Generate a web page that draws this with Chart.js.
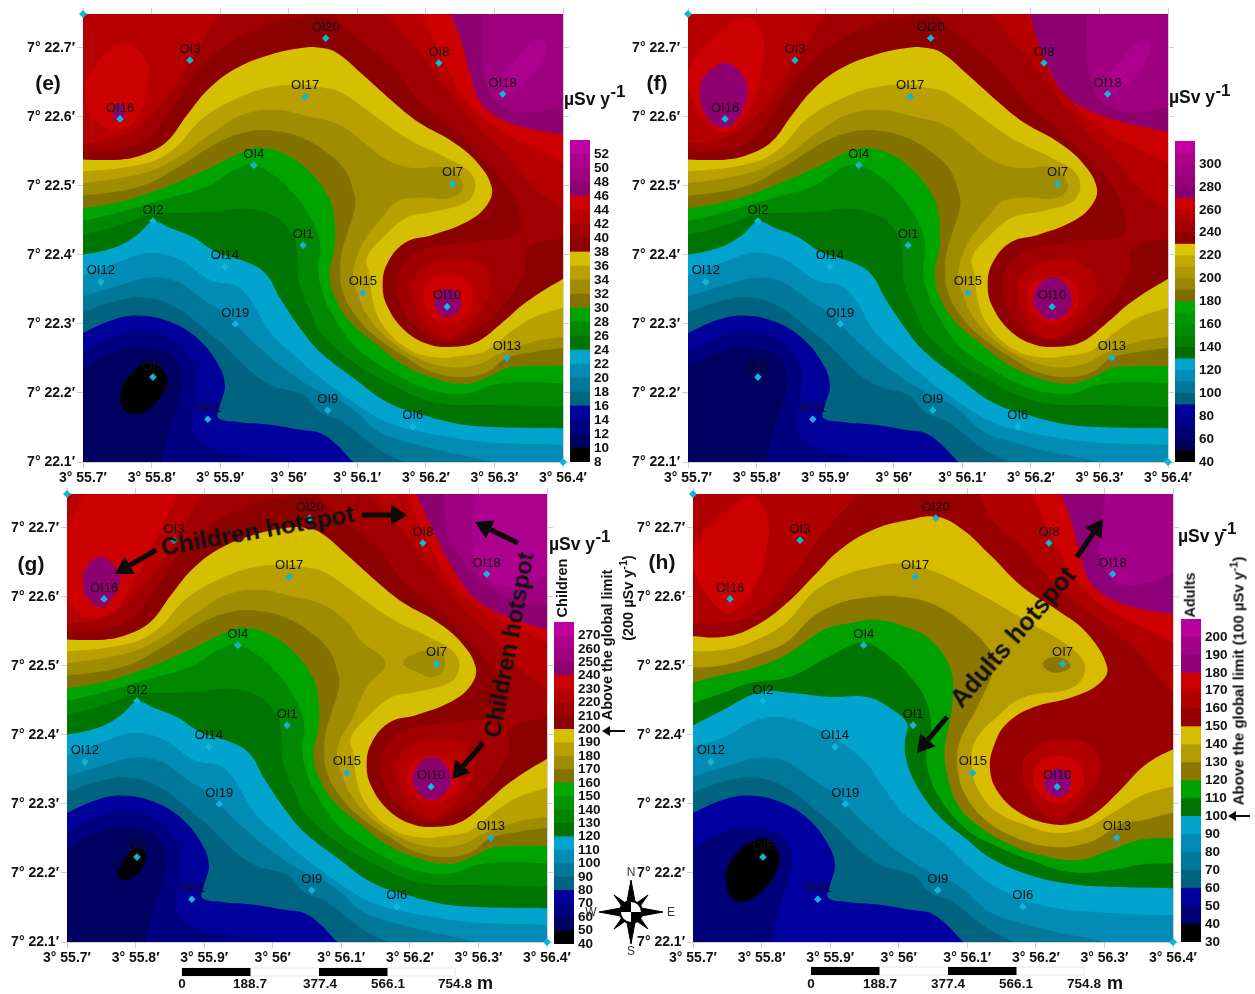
<!DOCTYPE html>
<html>
<head>
<meta charset="utf-8">
<title>Dose maps</title>
<script src="https://cdn.jsdelivr.net/npm/chart.js@4"></script>
<style>
  body { margin: 0; background: #fff; width: 1255px; height: 994px; position: relative; overflow: hidden; font-family: "Liberation Sans", Arial, sans-serif; }
  canvas { position: absolute; }
  svg { position: absolute; left: 0; top: 0; }
  .t { position: absolute; font-weight: bold; color: #111; white-space: nowrap; line-height: 1; }
  sup { font-size: 75%; line-height: 0; }
</style>
</head>
<body>
<script>
// axis ticks
const lonTicks = [55.7, 55.8, 55.9, 56.0, 56.1, 56.2, 56.3, 56.4];
const lonLabels = ["3° 55.7′", "3° 55.8′", "3° 55.9′", "3° 56′", "3° 56.1′", "3° 56.2′", "3° 56.3′", "3° 56.4′"];
const latTicks = [22.1, 22.2, 22.3, 22.4, 22.5, 22.6, 22.7];
const latLabels = ["7° 22.1′", "7° 22.2′", "7° 22.3′", "7° 22.4′", "7° 22.5′", "7° 22.6′", "7° 22.7′"];

// sampling stations
const stationNames = ["OI1", "OI2", "OI3", "OI4", "OI5", "OI6", "OI7", "OI8", "OI9", "OI10", "OI11", "OI12", "OI13", "OI14", "OI15", "OI16", "OI17", "OI18", "OI19", "OI20"];
const stationLon = [56.021, 55.802, 55.856, 55.949, 55.802, 56.181, 56.239, 56.219, 56.057, 56.231, 55.882, 55.726, 56.318, 55.907, 56.108, 55.754, 56.024, 56.312, 55.922, 56.054];
const stationLat = [22.414, 22.449, 22.682, 22.53, 22.223, 22.151, 22.503, 22.678, 22.175, 22.325, 22.162, 22.361, 22.251, 22.383, 22.345, 22.597, 22.629, 22.633, 22.3, 22.714];
const cornerMarks = [[55.7, 22.749], [56.4, 22.1]];

// contour lines, lon/lat pairs
const c12 = [[55.674,22.222],[55.744,22.259],[55.783,22.265],[55.827,22.255],[55.844,22.226],[55.839,22.187],[55.824,22.143],[55.827,22.077]];
const c14 = [[55.674,22.245],[55.744,22.281],[55.787,22.288],[55.827,22.28],[55.86,22.248],[55.866,22.212],[55.859,22.154],[55.871,22.129],[55.914,22.114],[55.973,22.106],[56.012,22.096],[56.046,22.077]];
const c16 = [[55.674,22.274],[55.744,22.306],[55.786,22.312],[55.827,22.303],[55.866,22.28],[55.895,22.245],[55.907,22.212],[55.9,22.183],[55.897,22.164],[55.925,22.158],[55.973,22.154],[56.021,22.146],[56.046,22.142],[56.07,22.125],[56.094,22.1],[56.118,22.077]];
const c18 = [[55.674,22.306],[55.744,22.332],[55.793,22.338],[55.837,22.323],[55.875,22.294],[55.91,22.265],[55.939,22.236],[55.973,22.212],[56.021,22.197],[56.046,22.172],[56.079,22.158],[56.129,22.12],[56.167,22.1],[56.206,22.077]];
const c20 = [[55.674,22.332],[55.754,22.356],[55.798,22.367],[55.837,22.361],[55.875,22.335],[55.91,22.313],[55.933,22.288],[55.958,22.265],[55.992,22.236],[56.046,22.201],[56.085,22.183],[56.133,22.143],[56.177,22.128],[56.231,22.114],[56.298,22.1],[56.352,22.081]];
const c22 = [[55.674,22.359],[55.754,22.39],[55.798,22.403],[55.841,22.393],[55.885,22.364],[55.925,22.354],[55.946,22.332],[55.973,22.288],[56.012,22.251],[56.046,22.222],[56.094,22.187],[56.143,22.158],[56.196,22.143],[56.289,22.129],[56.398,22.125],[56.432,22.125]];
const c24 = [[55.674,22.396],[55.744,22.41],[55.779,22.429],[55.802,22.448],[55.827,22.439],[55.86,22.426],[55.895,22.404],[55.943,22.388],[55.968,22.371],[55.987,22.338],[56.021,22.288],[56.046,22.259],[56.094,22.222],[56.143,22.187],[56.187,22.171],[56.239,22.157],[56.289,22.151],[56.398,22.149],[56.432,22.149]];
const c26 = [[55.674,22.422],[55.754,22.443],[55.798,22.458],[55.885,22.462],[55.939,22.467],[55.983,22.454],[56.006,22.429],[56.012,22.407],[56.013,22.381],[56.016,22.356],[56.031,22.32],[56.046,22.288],[56.094,22.245],[56.143,22.216],[56.191,22.193],[56.239,22.183],[56.289,22.183],[56.398,22.18],[56.432,22.18]];
const c28 = [[55.674,22.443],[55.754,22.462],[55.827,22.483],[55.885,22.501],[55.925,22.526],[55.948,22.53],[55.983,22.512],[56.012,22.483],[56.035,22.448],[56.046,22.414],[56.043,22.381],[56.048,22.349],[56.06,22.32],[56.094,22.27],[56.133,22.241],[56.177,22.216],[56.221,22.201],[56.264,22.2],[56.298,22.212],[56.352,22.216],[56.398,22.214],[56.432,22.214]];
const c30 = [[55.674,22.464],[55.754,22.477],[55.827,22.501],[55.885,22.526],[55.933,22.549],[55.962,22.555],[55.997,22.545],[56.031,22.52],[56.056,22.487],[56.065,22.462],[56.067,22.414],[56.06,22.371],[56.07,22.332],[56.094,22.299],[56.129,22.27],[56.167,22.241],[56.21,22.222],[56.254,22.213],[56.289,22.222],[56.318,22.236],[56.352,22.239],[56.398,22.239],[56.432,22.239]];
const c32 = [[55.674,22.483],[55.779,22.498],[55.837,22.526],[55.89,22.559],[55.933,22.577],[55.977,22.58],[56.021,22.569],[56.06,22.545],[56.082,22.523],[56.094,22.494],[56.097,22.472],[56.086,22.433],[56.078,22.407],[56.075,22.381],[56.079,22.346],[56.1,22.309],[56.129,22.28],[56.172,22.251],[56.21,22.23],[56.254,22.223],[56.289,22.23],[56.318,22.251],[56.356,22.259],[56.398,22.265],[56.432,22.268]];
const c34 = [[55.674,22.501],[55.779,22.516],[55.837,22.54],[55.89,22.578],[55.933,22.603],[55.983,22.61],[56.031,22.6],[56.075,22.588],[56.108,22.564],[56.143,22.538],[56.181,22.526],[56.231,22.526],[56.254,22.501],[56.239,22.483],[56.191,22.483],[56.158,22.477],[56.137,22.455],[56.111,22.422],[56.097,22.39],[56.094,22.364],[56.1,22.346],[56.114,22.313],[56.143,22.28],[56.187,22.251],[56.231,22.238],[56.274,22.241],[56.312,22.259],[56.356,22.274],[56.398,22.281],[56.432,22.285]];
const c34NoLobe = [[55.674,22.501],[55.779,22.516],[55.837,22.54],[55.89,22.578],[55.933,22.603],[55.983,22.61],[56.031,22.6],[56.075,22.588],[56.108,22.564],[56.127,22.538],[56.164,22.504],[56.137,22.469],[56.117,22.426],[56.097,22.39],[56.094,22.364],[56.1,22.346],[56.114,22.313],[56.143,22.28],[56.187,22.251],[56.231,22.238],[56.274,22.241],[56.312,22.259],[56.356,22.274],[56.398,22.281],[56.432,22.285]];
const c36 = [[55.674,22.519],[55.779,22.53],[55.827,22.549],[55.875,22.598],[55.925,22.627],[55.973,22.643],[56.021,22.646],[56.046,22.643],[56.075,22.636],[56.118,22.607],[56.172,22.569],[56.231,22.54],[56.264,22.52],[56.272,22.498],[56.26,22.477],[56.21,22.462],[56.172,22.454],[56.137,22.425],[56.114,22.396],[56.118,22.371],[56.123,22.332],[56.137,22.299],[56.172,22.265],[56.21,22.252],[56.254,22.254],[56.289,22.262],[56.323,22.288],[56.356,22.309],[56.398,22.323],[56.432,22.335]];
const c38 = [[55.674,22.539],[55.754,22.538],[55.787,22.545],[55.822,22.564],[55.852,22.603],[55.885,22.642],[55.925,22.671],[55.973,22.69],[56.021,22.7],[56.046,22.7],[56.07,22.693],[56.108,22.661],[56.152,22.622],[56.191,22.591],[56.239,22.564],[56.274,22.535],[56.296,22.498],[56.289,22.472],[56.26,22.448],[56.21,22.429],[56.172,22.419],[56.145,22.39],[56.137,22.356],[56.145,22.323],[56.172,22.288],[56.206,22.27],[56.239,22.267],[56.274,22.274],[56.308,22.299],[56.347,22.332],[56.398,22.364],[56.432,22.381]];
const c40 = [[55.674,22.551],[55.744,22.551],[55.793,22.567],[55.822,22.603],[55.871,22.671],[55.925,22.714],[55.983,22.738],[56.021,22.745],[56.06,22.746],[56.075,22.733],[56.118,22.7],[56.158,22.665],[56.191,22.622],[56.239,22.584],[56.289,22.535],[56.318,22.501],[56.337,22.458],[56.333,22.429],[56.264,22.419],[56.206,22.41],[56.177,22.396],[56.159,22.367],[56.162,22.332],[56.181,22.299],[56.231,22.277],[56.274,22.294],[56.312,22.327],[56.342,22.371],[56.349,22.41],[56.398,22.425],[56.432,22.433]];
const c42 = [[56.133,22.762],[56.167,22.719],[56.202,22.68],[56.235,22.636],[56.269,22.593],[56.318,22.545],[56.356,22.501],[56.398,22.468],[56.432,22.448]];
const c42West = [[55.674,22.564],[55.729,22.564],[55.779,22.584],[55.817,22.622],[55.856,22.68],[55.897,22.749],[55.907,22.77]];
const c44 = [[56.184,22.77],[56.21,22.714],[56.225,22.685],[56.25,22.636],[56.274,22.607],[56.318,22.574],[56.356,22.555],[56.398,22.535],[56.432,22.52]];
const c46 = [[56.228,22.77],[56.25,22.714],[56.264,22.665],[56.279,22.622],[56.308,22.598],[56.347,22.584],[56.398,22.575],[56.432,22.571]];
const c48 = [[56.282,22.77],[56.282,22.7],[56.286,22.656],[56.304,22.622],[56.347,22.607],[56.398,22.614],[56.432,22.619]];
const oval50 = [[56.369,22.711],[56.375,22.7],[56.362,22.671],[56.333,22.642],[56.315,22.635],[56.312,22.656],[56.333,22.685],[56.356,22.709]];
const redWest = [[55.766,22.706],[55.795,22.675],[55.793,22.642],[55.779,22.598],[55.754,22.58],[55.72,22.593],[55.703,22.632],[55.71,22.661],[55.735,22.694]];
const spot16 = [[55.752,22.62],[55.761,22.61],[55.76,22.598],[55.752,22.594],[55.745,22.598],[55.744,22.61]];
const ring42 = [[56.18,22.346],[56.191,22.375],[56.231,22.393],[56.274,22.388],[56.295,22.356],[56.283,22.323],[56.254,22.291],[56.231,22.278],[56.202,22.294]];
const ring44 = [[56.196,22.338],[56.206,22.361],[56.232,22.37],[56.26,22.361],[56.27,22.338],[56.26,22.313],[56.232,22.3],[56.209,22.31]];
const ring46 = [[56.213,22.33],[56.22,22.346],[56.232,22.351],[56.245,22.346],[56.251,22.33],[56.245,22.316],[56.232,22.31],[56.219,22.316]];
const ringWide = [[56.204,22.335],[56.214,22.359],[56.232,22.368],[56.25,22.359],[56.26,22.335],[56.25,22.314],[56.232,22.306],[56.214,22.314]];
const blackE = [[55.795,22.243],[55.815,22.236],[55.822,22.216],[55.812,22.193],[55.793,22.175],[55.773,22.17],[55.758,22.178],[55.755,22.201],[55.769,22.226],[55.783,22.238]];

// panel (f) and (g) shapes
const purpleF = [[56.191,22.77],[56.221,22.682],[56.25,22.632],[56.301,22.603],[56.398,22.578],[56.432,22.572]];
const spotF = [[55.757,22.678],[55.783,22.654],[55.785,22.625],[55.769,22.593],[55.751,22.584],[55.729,22.598],[55.717,22.632],[55.725,22.661]];
const spotG = [[55.751,22.658],[55.777,22.632],[55.771,22.607],[55.751,22.585],[55.732,22.596],[55.723,22.622],[55.731,22.646]];
const redG = [[55.666,22.682],[55.7,22.709],[55.725,22.746],[55.732,22.762],[55.856,22.762],[55.831,22.687],[55.796,22.62],[55.767,22.577],[55.729,22.571],[55.704,22.591],[55.666,22.625]];
const blackG = [[55.805,22.236],[55.815,22.225],[55.809,22.207],[55.793,22.193],[55.779,22.19],[55.774,22.201],[55.783,22.219],[55.793,22.232]];
const lobeG = [[56.19,22.504],[56.21,22.519],[56.244,22.52],[56.251,22.498],[56.234,22.484],[56.21,22.491]];
const g240 = [[56.199,22.77],[56.234,22.697],[56.258,22.649],[56.292,22.6],[56.342,22.571],[56.4,22.552],[56.432,22.54]];
const g250 = [[56.25,22.77],[56.254,22.697],[56.273,22.658],[56.302,22.625],[56.342,22.6],[56.4,22.588],[56.432,22.584]];
const g260 = [[56.298,22.77],[56.292,22.672],[56.312,22.627],[56.342,22.614],[56.4,22.629],[56.432,22.635]];

// panel (h) shapes
const h90 = [[55.674,22.378],[55.735,22.393],[55.812,22.426],[55.885,22.407],[55.948,22.364],[55.977,22.325],[56.006,22.287],[56.06,22.248],[56.133,22.185],[56.206,22.154],[56.308,22.142],[56.398,22.139],[56.432,22.139]];
const h100 = [[55.674,22.4],[55.744,22.436],[55.798,22.462],[55.841,22.461],[55.9,22.455],[55.954,22.455],[55.987,22.439],[56.012,22.417],[56.009,22.39],[56.011,22.364],[56.027,22.325],[56.06,22.281],[56.1,22.248],[56.133,22.222],[56.191,22.197],[56.25,22.184],[56.308,22.18],[56.398,22.178],[56.432,22.178]];
const h110 = [[55.674,22.436],[55.744,22.461],[55.783,22.475],[55.841,22.484],[55.89,22.509],[55.939,22.533],[55.955,22.533],[55.987,22.513],[56.021,22.48],[56.043,22.441],[56.047,22.397],[56.041,22.383],[56.043,22.346],[56.065,22.301],[56.1,22.262],[56.133,22.243],[56.191,22.219],[56.25,22.201],[56.308,22.204],[56.352,22.212],[56.398,22.214],[56.432,22.214]];
const h120 = [[55.674,22.469],[55.744,22.487],[55.793,22.498],[55.841,22.519],[55.89,22.552],[55.929,22.562],[55.968,22.567],[56.012,22.556],[56.046,22.538],[56.075,22.498],[56.079,22.455],[56.072,22.407],[56.067,22.378],[56.07,22.346],[56.085,22.301],[56.114,22.27],[56.155,22.245],[56.206,22.226],[56.264,22.219],[56.308,22.233],[56.352,22.248],[56.398,22.251],[56.432,22.251]];
const h130 = [[55.674,22.497],[55.744,22.501],[55.793,22.516],[55.837,22.535],[55.875,22.571],[55.914,22.591],[55.962,22.6],[55.997,22.601],[56.046,22.591],[56.094,22.562],[56.133,22.523],[56.139,22.498],[56.116,22.443],[56.089,22.39],[56.086,22.349],[56.097,22.313],[56.123,22.28],[56.162,22.255],[56.221,22.238],[56.279,22.245],[56.323,22.27],[56.359,22.277],[56.398,22.287],[56.432,22.291]];
const h140 = [[55.674,22.522],[55.744,22.523],[55.793,22.538],[55.837,22.564],[55.875,22.606],[55.914,22.629],[55.962,22.643],[56.006,22.648],[56.056,22.635],[56.1,22.614],[56.133,22.596],[56.191,22.562],[56.25,22.527],[56.272,22.498],[56.254,22.469],[56.181,22.454],[56.143,22.426],[56.111,22.39],[56.107,22.349],[56.118,22.317],[56.143,22.288],[56.184,22.27],[56.228,22.258],[56.272,22.265],[56.312,22.287],[56.356,22.313],[56.398,22.325],[56.432,22.332]];
const h150 = [[55.674,22.546],[55.744,22.542],[55.793,22.559],[55.837,22.591],[55.875,22.629],[55.914,22.668],[55.962,22.697],[56.012,22.711],[56.056,22.716],[56.094,22.697],[56.133,22.661],[56.181,22.614],[56.231,22.581],[56.274,22.548],[56.304,22.498],[56.293,22.475],[56.254,22.455],[56.196,22.44],[56.158,22.417],[56.141,22.39],[56.133,22.352],[56.145,22.317],[56.177,22.287],[56.216,22.272],[56.25,22.271],[56.283,22.284],[56.323,22.32],[56.359,22.356],[56.398,22.378],[56.432,22.39]];
const h160 = [[56.111,22.77],[56.133,22.716],[56.181,22.672],[56.231,22.614],[56.279,22.577],[56.342,22.527],[56.4,22.462],[56.432,22.448]];
const h160West = [[55.674,22.564],[55.744,22.562],[55.793,22.578],[55.841,22.625],[55.89,22.693],[55.943,22.751],[55.955,22.77]];
const redWide = [[55.787,22.745],[55.808,22.716],[55.809,22.678],[55.793,22.62],[55.758,22.578],[55.729,22.591],[55.703,22.635],[55.703,22.672],[55.739,22.716]];
const h190 = [[56.304,22.77],[56.296,22.707],[56.293,22.664],[56.312,22.625],[56.347,22.617],[56.4,22.635],[56.432,22.646]];
const lobeH = [[56.21,22.504],[56.225,22.513],[56.245,22.508],[56.25,22.498],[56.231,22.49],[56.216,22.494]];
const blackH = [[55.809,22.249],[55.824,22.232],[55.824,22.21],[55.808,22.181],[55.779,22.159],[55.758,22.162],[55.748,22.187],[55.751,22.21],[55.769,22.235],[55.793,22.248]];

// colour bar edges, bottom to top
const barE = [8, 10, 12, 14, 16, 18, 20, 22, 24, 26, 28, 30, 32, 34, 36, 38, 40, 42, 44, 46, 48, 50, 52, 54];
const barF = [40, 50, 60, 70, 80, 90, 100, 110, 120, 130, 140, 150, 160, 170, 180, 190, 200, 210, 220, 230, 240, 250, 260, 270, 280, 290, 300, 310, 320];
const barG = [40, 50, 60, 70, 80, 90, 100, 110, 120, 130, 140, 150, 160, 170, 180, 190, 200, 210, 220, 230, 240, 250, 260, 270, 280];
const barH = [30, 40, 50, 60, 70, 80, 90, 100, 110, 120, 130, 140, 150, 160, 170, 180, 190, 200, 210];
const barTicksE = [8, 10, 12, 14, 16, 18, 20, 22, 24, 26, 28, 30, 32, 34, 36, 38, 40, 42, 44, 46, 48, 50, 52];
const barTicksF = [40, 60, 80, 100, 120, 140, 160, 180, 200, 220, 240, 260, 280, 300];
const barTicksG = [40, 50, 60, 70, 80, 90, 100, 110, 120, 130, 140, 150, 160, 170, 180, 190, 200, 210, 220, 230, 240, 250, 260, 270];
const barTicksH = [30, 40, 50, 60, 70, 80, 90, 100, 110, 120, 130, 140, 150, 160, 170, 180, 190, 200];

// colours
const navy = ["#000060", "#000080", "#00009a"];
const teal = ["#006480", "#00789a", "#008cb4", "#00a4cc"];
const green = ["#007400", "#008800", "#00a400"];
const olive = ["#847200", "#a08c00", "#b8a000", "#d6be00"];
const red = ["#8c0000", "#a20000", "#b60000", "#cc0000"];
const purple = ["#8e0070", "#9e0080", "#ae008e", "#c000a0"];
const coloursE = ["#000000", ...navy, ...teal, ...green, ...olive, ...red, ...purple];
const coloursF = ["#000000", "#00005c", "#000074", "#00008a", "#0000a0", ...teal,
  "#006c00", "#007e00", "#008c00", "#009800", "#00a800",
  "#7e6c00", "#988600", "#ac9800", "#c0aa00", "#dcc400", ...red,
  "#880070", "#960078", "#a40084", "#b0008e", "#c000a0"];
const coloursG = ["#000000", ...navy, ...teal, "#007000", "#008400", "#009400", "#00a800", ...olive, ...red, ...purple];
const coloursH = ["#000000", "#000078", "#0000a0", ...teal, "#007400", "#00a000", "#8c7800", "#b49c00", "#d8bc00", "#980000", "#b00000", "#cc0000", "#8e0078", "#a4008a", "#b8009c"];
const h = { green: ["#007400", "#00a000"], olive: ["#8c7800", "#b49c00", "#d8bc00"], red: ["#980000", "#b00000", "#cc0000"], purple: ["#8e0078", "#a4008a", "#b8009c"] };

// far points that close the contour lines outside the plot
const NE = [56.65, 23.0], NW = [55.45, 23.0], SE = [56.65, 21.85], SW = [55.45, 21.85];
const cover = [SW, SE, NE, NW, SW];
const south = l => l.concat([SE, NE, NW]);
const east = l => l.concat([NE, NW]);
// wrap a couple of points round so the spline has no kink where a blob closes
const closed = l => [l[l.length - 1], ...l, l[0], l[1]];

const lowerLayers = [
  [cover, navy[0]], [south(c12), navy[1]], [south(c14), navy[2]],
  [south(c16), teal[0]], [south(c18), teal[1]], [south(c20), teal[2]], [east(c22), teal[3]],
  [east(c24), green[0]], [east(c26), green[1]], [east(c28), green[2]],
  [east(c30), olive[0]], [east(c32), olive[1]]
];
const rimLayers = [
  [east(c36), olive[3]], [east(c38), red[0]], [east(c40), red[1]],
  [c42.concat([NE]), red[2]], [c42West.concat([NW]), red[2]]
];
const ringLayers = [[closed(ring42), red[2]], [closed(ring44), red[3]]];

const layersE = [...lowerLayers, [east(c34), olive[2]], ...rimLayers,
  [closed(redWest), red[3]], [closed(spot16), purple[0]], [c44.concat([NE]), red[3]],
  [c46.concat([NE]), purple[0]], [c48.concat([NE]), purple[1]], [closed(oval50), purple[2]],
  ...ringLayers, [closed(ring46), purple[0]], [closed(blackE), "#000000"]];
const layersF = [...lowerLayers, [east(c34), olive[2]], ...rimLayers,
  [closed(redWide), red[3]], [closed(spotF), purple[0]], [c44.concat([NE]), red[3]],
  [purpleF.concat([NE]), purple[0]], [c48.concat([NE]), purple[1]], [closed(oval50), purple[2]],
  ...ringLayers, [closed(ringWide), purple[0]]];
const layersG = [...lowerLayers, [east(c34NoLobe), olive[2]], [closed(lobeG), olive[1]], ...rimLayers,
  [redG, red[3]], [closed(spotG), purple[0]], [c44.concat([NE]), red[3]],
  [g240.concat([NE]), purple[0]], [g250.concat([NE]), purple[1]], [g260.concat([NE]), purple[2]],
  ...ringLayers, [closed(ringWide), purple[0]], [closed(blackG), "#000000"]];
const layersH = [
  [cover, "#000078"], [south(c12), "#0000a0"],
  [south(c16), teal[0]], [south(c18), teal[1]], [south(c20), teal[2]], [east(h90), teal[3]],
  [east(h100), h.green[0]], [east(h110), h.green[1]], [east(h120), h.olive[0]], [east(h130), h.olive[1]],
  [closed(lobeH), h.olive[0]], [east(h140), h.olive[2]], [east(h150), h.red[0]],
  [h160.concat([NE]), h.red[1]], [h160West.concat([NW]), h.red[1]], [closed(redWide), h.red[2]],
  [c44.concat([NE]), h.red[2]], [c46.concat([NE]), h.purple[0]], [h190.concat([NE]), h.purple[1]],
  [closed(ring42), h.red[1]], [closed(ring44), h.red[2]], [closed(ring46), h.purple[0]], [closed(blackH), "#000000"]
];

const FONT = '"Liberation Sans", Arial, sans-serif';
const AXIS_GREY = "#cfcfcf";

const stationLabels = {
  id: "stationLabels",
  afterDatasetsDraw(chart) {
    const { ctx, scales: { x, y } } = chart;
    ctx.save();
    ctx.font = "13px " + FONT;
    ctx.fillStyle = "#111";
    ctx.textAlign = "center";
    ctx.textBaseline = "middle";
    stationNames.forEach((name, i) => {
      ctx.fillText(name, x.getPixelForValue(stationLon[i]), y.getPixelForValue(stationLat[i]) - 11);
    });
    ctx.restore();
  },
};

function addCanvas(left, top, width, height) {
  const canvas = document.createElement("canvas");
  canvas.width = width;
  canvas.height = height;
  canvas.style.left = left + "px";
  canvas.style.top = top + "px";
  canvas.style.width = width + "px";
  canvas.style.height = height + "px";
  document.body.appendChild(canvas);
  return canvas;
}

function setTicks(values) {
  return (scale) => { scale.ticks = values.map((value) => ({ value })); };
}

// the tick labels must not push the plot inwards
function fixSize(width, height) {
  return (s) => {
    if (width) s.width = width;
    if (height) s.height = height;
    s.paddingLeft = s.paddingRight = s.paddingTop = s.paddingBottom = 0;
  };
}

function makeMap(plotLeft, plotTop, layers) {
  const canvas = addCanvas(plotLeft - 70, plotTop - 10, 600, 494);
  const sideGrid = { drawOnChartArea: false, tickLength: 6, color: AXIS_GREY };
  const tickFont = { family: FONT, size: 14, weight: "bold" };
  const datasets = [
    { data: stationLon.map((lon, i) => [lon, stationLat[i]]), pointStyle: "rectRot", pointRadius: 3.8, backgroundColor: "#12b5da", borderWidth: 0, showLine: false, clip: false },
    { data: cornerMarks, pointStyle: "rectRot", pointRadius: 4, backgroundColor: "#12b5da", borderWidth: 0, showLine: false, clip: false },
  ];
  layers.slice().reverse().forEach(([points, colour]) => {
    datasets.push({ data: points, showLine: true, fill: "shape", backgroundColor: colour, borderWidth: 0, pointRadius: 0, tension: 0.4, capBezierPoints: false });
  });
  return new Chart(canvas, {
    type: "scatter",
    data: { datasets },
    options: {
      responsive: false,
      animation: false,
      events: [],
      layout: { autoPadding: false, padding: { left: 0, right: 42, top: 2, bottom: 6 } },
      plugins: { legend: { display: false }, tooltip: { enabled: false } },
      scales: {
        x: {
          type: "linear", min: 55.7, max: 56.4, afterBuildTicks: setTicks(lonTicks),
          afterFit: fixSize(0, 30),
          grid: sideGrid, border: { color: AXIS_GREY },
          ticks: { color: "#111", font: tickFont, padding: 2, maxRotation: 0, autoSkip: false, callback: (v) => lonLabels[lonTicks.indexOf(v)] },
        },
        y: {
          type: "linear", min: 22.1, max: 22.749, afterBuildTicks: setTicks(latTicks),
          afterFit: fixSize(70, 0),
          grid: sideGrid, border: { color: AXIS_GREY },
          ticks: { color: "#111", font: tickFont, padding: 2, autoSkip: false, callback: (v) => latLabels[latTicks.indexOf(v)] },
        },
        x2: {
          type: "linear", position: "top", min: 55.7, max: 56.4, afterBuildTicks: setTicks(lonTicks),
          afterFit: fixSize(0, 8),
          grid: sideGrid, border: { color: AXIS_GREY }, ticks: { display: false },
        },
        y2: {
          type: "linear", position: "right", min: 22.1, max: 22.749, afterBuildTicks: setTicks(latTicks),
          afterFit: fixSize(8, 0),
          grid: sideGrid, border: { color: AXIS_GREY }, ticks: { display: false },
        },
      },
    },
    plugins: [stationLabels],
  });
}

function makeBar(left, top, bottom, edges, colours, tickValues) {
  const canvas = addCanvas(left, top - 10, 70, bottom - top + 20);
  const datasets = colours.map((colour, i) => ({ data: [[edges[i], edges[i + 1]]], backgroundColor: colour, borderWidth: 0, barPercentage: 1, categoryPercentage: 1, grouped: false }));
  return new Chart(canvas, {
    type: "bar",
    data: { labels: ["band"], datasets },
    options: {
      responsive: false,
      animation: false,
      events: [],
      layout: { autoPadding: false, padding: { left: 0, right: 0, top: 10, bottom: 10 } },
      plugins: { legend: { display: false }, tooltip: { enabled: false } },
      scales: {
        x: { display: false },
        y: {
          position: "right", min: edges[0], max: edges[edges.length - 1], afterBuildTicks: setTicks(tickValues),
          afterFit: fixSize(50, 0),
          grid: { display: false, drawTicks: false }, border: { display: false },
          ticks: { color: "#111", font: { family: FONT, size: 13.5, weight: "bold" }, padding: 4, autoSkip: false },
        },
      },
    },
  });
}

makeMap(83, 14, layersE);
makeMap(688, 14, layersF);
makeMap(67, 494, layersG);
makeMap(693, 494, layersH);

makeBar(570, 140, 462, barE, coloursE, barTicksE);
makeBar(1175, 141, 462, barF, coloursF, barTicksF);
makeBar(554, 622, 944, barG, coloursG, barTicksG);
makeBar(1181, 619, 942, barH, coloursH, barTicksH);

// text around the maps
function addText(html, x, y, size, rotate) {
  const el = document.createElement("div");
  el.className = "t";
  el.innerHTML = html;
  el.style.left = x + "px";
  el.style.top = y + "px";
  el.style.fontSize = size + "px";
  el.style.transform = `translate(-50%, -50%) rotate(${rotate || 0}deg)`;
  document.body.appendChild(el);
  return el;
}

addText("(e)", 48, 82, 21);
addText("(f)", 657, 82, 21);
addText("(g)", 31, 563, 21);
addText("(h)", 662, 561, 21);

[[587, 100, 618, 91], [1192, 98, 1223, 90], [572, 545, 603, 536], [1201, 537, 1229, 528]].forEach(([x, y, sx, sy]) => {
  addText("µSv y", x, y, 17.5);
  addText("-1", sx, sy, 17);
});

addText("Children", 562, 588, 14.5, -90);
addText("Above the global limit", 607, 645, 14.5, -90);
addText("(200 µSv y<sup>-1</sup>)", 628, 598, 14.5, -90);
addText("Adults", 1190, 595, 14.5, -90);
addText("Above the global limit (100 µSv y<sup>-1</sup>)", 1238, 681, 15, -90);
addText("Children hotspot", 258, 531, 24.5, -10);
addText("Children hotspot", 510, 645, 23.5, -79.5);
addText("Adults hotspot", 1013, 637, 25, -49);

[[182, 250, 320, 388, 455, 485], [811, 880, 948, 1016, 1084, 1115]].forEach((xs) => {
  ["0", "188.7", "377.4", "566.1", "754.8"].forEach((label, i) => addText(label, xs[i], 984, 13.5));
  addText("m", xs[5], 983, 18);
});

[["N", 631, 872], ["S", 631, 951], ["E", 671, 912], ["W", 591, 912]].forEach(([label, x, y]) => {
  const el = addText(label, x, y, 12);
  el.style.fontWeight = "normal";
  el.style.color = "#333";
});

// arrows, scale bars and compass
const svgNS = "http://www.w3.org/2000/svg";
const svg = document.createElementNS(svgNS, "svg");
svg.setAttribute("width", 1255);
svg.setAttribute("height", 994);
document.body.appendChild(svg);

function shape(tag, attrs) {
  const el = document.createElementNS(svgNS, tag);
  for (const k in attrs) el.setAttribute(k, attrs[k]);
  svg.appendChild(el);
}

function arrow(x1, y1, x2, y2, w, headLen, headW) {
  const len = Math.hypot(x2 - x1, y2 - y1);
  const ux = (x2 - x1) / len, uy = (y2 - y1) / len;
  const bx = x2 - ux * headLen, by = y2 - uy * headLen;
  shape("line", { x1, y1, x2: bx, y2: by, stroke: "#0a0a0a", "stroke-width": w });
  shape("polygon", { fill: "#0a0a0a", points: `${x2},${y2} ${bx - uy * headW},${by + ux * headW} ${bx + uy * headW},${by - ux * headW}` });
}

arrow(156, 550, 115, 574, 5, 17, 10);
arrow(362, 515, 407, 515, 5, 16, 10);
arrow(518, 543, 475, 522, 5, 17, 10);
arrow(483, 743, 452, 779, 5, 17, 10);
arrow(1077, 557, 1103, 519, 5, 17, 10);
arrow(947, 717, 917, 753, 5, 17, 10);
arrow(625, 731, 602, 731, 2, 8, 5);
arrow(1250, 816, 1228, 816, 2, 8, 5);

[[182, 968], [811, 967]].forEach(([x, y]) => {
  shape("rect", { x, y, width: 273, height: 8, fill: "#fff", stroke: "#ccc", "stroke-width": 0.5 });
  shape("rect", { x, y, width: 68.5, height: 8, fill: "#000" });
  shape("rect", { x: x + 137, y, width: 68.5, height: 8, fill: "#000" });
});

const cx = 631, cy = 912;
shape("polygon", { fill: "#000", stroke: "#000", points: `${cx},${cy - 32} ${cx + 5},${cy - 5} ${cx + 32},${cy} ${cx + 5},${cy + 5} ${cx},${cy + 32} ${cx - 5},${cy + 5} ${cx - 32},${cy} ${cx - 5},${cy - 5}` });
shape("polygon", { fill: "#000", stroke: "#000", points: `${cx + 17},${cy - 17} ${cx + 5},${cy} ${cx + 17},${cy + 17} ${cx},${cy + 5} ${cx - 17},${cy + 17} ${cx - 5},${cy} ${cx - 17},${cy - 17} ${cx},${cy - 5}` });
shape("circle", { cx, cy, r: 12, fill: "#000" });
shape("path", { fill: "#fff", d: `M${cx} ${cy} L${cx} ${cy - 10} A10 10 0 0 1 ${cx + 10} ${cy} Z` });
shape("path", { fill: "#fff", d: `M${cx} ${cy} L${cx} ${cy + 10} A10 10 0 0 1 ${cx - 10} ${cy} Z` });
</script>
</body>
</html>
